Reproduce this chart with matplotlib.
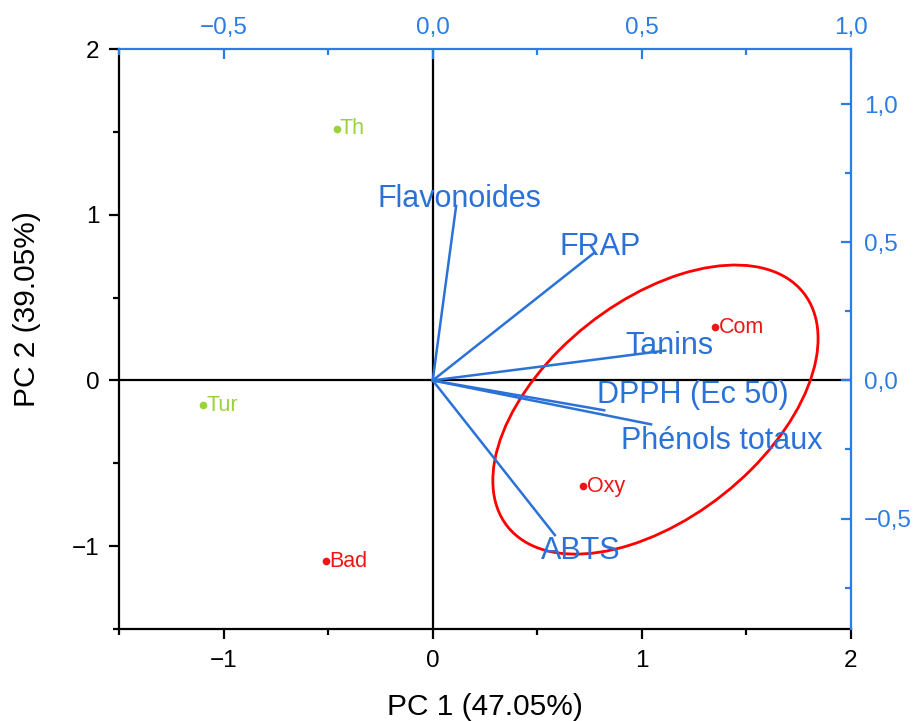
import matplotlib
matplotlib.use("Agg")
import matplotlib.pyplot as plt
from matplotlib.patches import Ellipse
from matplotlib.ticker import MultipleLocator, FuncFormatter

plt.rcParams['font.family'] = ['Liberation Sans', 'DejaVu Sans']

# Sample scores on the first two principal components
samples = ["Th", "Tur", "Bad", "Oxy", "Com"]
pc1_scores = [-0.46, -1.10, -0.51, 0.72, 1.35]
pc2_scores = [1.52, -0.15, -1.09, -0.64, 0.32]
sample_group = ["g", "g", "r", "r", "r"]

# Variable loadings (upper / right axes)
variables = ["Flavonoides", "FRAP", "Tanins", "DPPH (Ec 50)", "Phénols totaux", "ABTS"]
load_pc1 = [0.056, 0.386, 0.556, 0.410, 0.522, 0.292]
load_pc2 = [0.632, 0.462, 0.108, -0.108, -0.159, -0.560]

# Where each variable name is written (loading units)
var_label_x = [0.065, 0.401, 0.565, 0.621, 0.691, 0.353]
var_label_y = [0.657, 0.484, 0.126, -0.054, -0.220, -0.617]

# Ellipse around the grouped samples (score units)
ellipse_center = (1.065, -0.176)
ellipse_width = 2.025
ellipse_height = 1.167
ellipse_angle = 51.6

BLUE = "#2a72d8"
BLUE_AX = "#2b7de3"
GREEN = "#9ad23a"
RED = "#f01515"
group_colors = {"g": GREEN, "r": RED}

fig = plt.figure(figsize=(9.20, 7.21), dpi=100)
pos = [119 / 920, 1 - 629 / 721, (851 - 119) / 920, (629 - 49) / 721]
ax = fig.add_axes(pos)
ax2 = fig.add_axes(pos, facecolor="none")

# --- score axes (bottom / left) ---
ax.set_xlim(-1.5, 2)
ax.set_ylim(-1.5, 2)
ax.xaxis.set_major_locator(MultipleLocator(1))
ax.xaxis.set_minor_locator(MultipleLocator(0.5))
ax.yaxis.set_major_locator(MultipleLocator(1))
ax.yaxis.set_minor_locator(MultipleLocator(0.5))
ax.tick_params(which="both", direction="out", width=1.6, colors="black",
               labelsize=17.5)
ax.tick_params(axis="x", which="major", length=7.5, pad=7.5)
ax.tick_params(axis="y", which="major", length=7.5, pad=6.5)
ax.tick_params(which="minor", length=4)
for s in ["top", "right"]:
    ax.spines[s].set_visible(False)
for s in ["left", "bottom"]:
    ax.spines[s].set_linewidth(1.6)
ax.set_xlabel("PC 1 (47.05%)", fontsize=21.5, labelpad=15)
ax.set_ylabel("PC 2 (39.05%)", fontsize=21.5)
ax.yaxis.set_label_coords(-0.106, 0.552)

ax.axhline(0, color="black", lw=1.6, zorder=1)
ax.axvline(0, color="black", lw=1.6, zorder=1)

for name, x, y, g in zip(samples, pc1_scores, pc2_scores, sample_group):
    c = group_colors[g]
    ax.plot(x, y, "o", color=c, ms=4.5, zorder=3)
    ax.annotate(name, (x, y), xytext=(2.5, 0), textcoords="offset points",
                color=c, fontsize=15.5, ha="left", va="center", zorder=3)

ax.add_patch(Ellipse(ellipse_center, ellipse_width, ellipse_height,
                     angle=ellipse_angle, fill=False, edgecolor="#ff0000",
                     lw=2.0, zorder=4))

# --- loading axes (top / right) ---
ax2.set_xlim(-0.75, 1.0)
ax2.set_ylim(-0.9, 1.2)
ax2.xaxis.tick_top()
ax2.yaxis.tick_right()
ax2.xaxis.set_major_locator(MultipleLocator(0.5))
ax2.xaxis.set_minor_locator(MultipleLocator(0.25))
ax2.yaxis.set_major_locator(MultipleLocator(0.5))
ax2.yaxis.set_minor_locator(MultipleLocator(0.25))
comma = FuncFormatter(lambda v, p: f"{v:.1f}".replace(".", ",").replace("-", "\u2212"))
ax2.xaxis.set_major_formatter(comma)
ax2.yaxis.set_major_formatter(comma)
ax2.tick_params(which="both", direction="in", width=1.6, color=BLUE_AX,
                labelcolor=BLUE_AX, labelsize=17.5)
ax2.tick_params(axis="x", which="major", length=7.5, pad=7.5)
ax2.tick_params(axis="y", which="major", length=7.5, pad=9.5)
ax2.tick_params(which="minor", length=4)
for s in ["left", "bottom"]:
    ax2.spines[s].set_visible(False)
for s in ["top", "right"]:
    ax2.spines[s].set_color(BLUE_AX)
    ax2.spines[s].set_linewidth(1.6)

for name, x, y, lx, ly in zip(variables, load_pc1, load_pc2, var_label_x, var_label_y):
    ax2.plot([0, x], [0, y], color=BLUE, lw=1.8, zorder=2)
    ax2.text(lx, ly, name, color=BLUE, fontsize=22, ha="center", va="center",
             zorder=2)

fig.savefig("out.png", dpi=100)
